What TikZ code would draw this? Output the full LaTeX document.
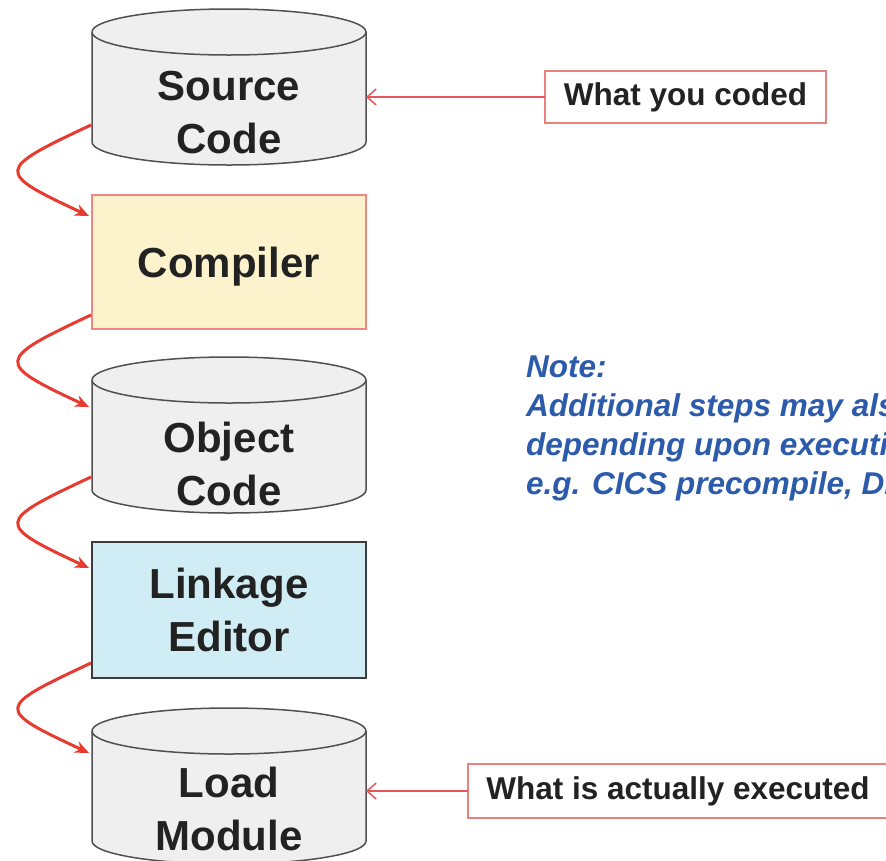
\documentclass[tikz,border=0pt]{standalone}
\usepackage{fontspec}
\setmainfont{Liberation Sans}
\usetikzlibrary{arrows.meta,calc}
\definecolor{cylfill}{HTML}{EFEFEF}
\definecolor{cylline}{HTML}{505050}
\definecolor{compfill}{HTML}{FCF3CC}
\definecolor{compline}{HTML}{EE8880}
\definecolor{linkfill}{HTML}{D0ECF4}
\definecolor{linkline}{HTML}{3C3C3C}
\definecolor{flowred}{HTML}{E63B2E}
\definecolor{lblline}{HTML}{E8827E}
\definecolor{lblarrow}{HTML}{E8555A}
\definecolor{notecol}{HTML}{2B5BAA}
\definecolor{txtcol}{HTML}{222222}
\newcommand{\drawcyl}[1]{%
  \path[cylbody] ([yshift=-23pt]#1.north west) -- ([yshift=23pt]#1.south west)
    arc[start angle=180,end angle=360,x radius=137pt,y radius=23pt]
    -- ([yshift=-23pt]#1.north east)
    arc[start angle=0,end angle=180,x radius=137pt,y radius=23pt] -- cycle;
  \draw[cylline,line width=1.5pt] ([yshift=-23pt]#1.north east)
    arc[start angle=0,end angle=-180,x radius=137pt,y radius=23pt];}
\begin{document}
\begin{tikzpicture}[x=1pt,y=-1pt,
  cylbox/.style={minimum width=274pt,minimum height=156pt,inner sep=0pt,outer sep=0pt},
  cylbody/.style={draw=cylline,fill=cylfill,line width=1.5pt},
  bigtext/.style={align=center,text=txtcol,inner sep=0pt,font=\fontsize{42}{53}\selectfont\bfseries},
  compbox/.style={bigtext,draw=compline,fill=compfill,line width=2pt,minimum width=274pt,minimum height=134pt,outer sep=0pt,text depth=0pt},
  linkbox/.style={bigtext,draw=linkline,fill=linkfill,line width=1.5pt,minimum width=274pt,minimum height=136pt,outer sep=0pt},
  lblbox/.style={draw=lblline,fill=white,line width=2pt,text=txtcol,inner sep=0pt,outer sep=0pt,font=\fontsize{31.5}{36}\selectfont\bfseries},
  flow/.style={draw=flowred,line width=3pt,-{Stealth[length=14pt,width=12pt]}},
  lblarr/.style={draw=lblarrow,line width=1.5pt,-{Straight Barb[length=9pt,width=16pt]}},
  notetext/.style={align=left,text=notecol,inner sep=0pt,anchor=north west,font=\fontsize{31.5}{39}\selectfont\bfseries\itshape}]
\clip (0,0) rectangle (886,860);
\fill[white] (0,0) rectangle (886,860);

% cylinders
\node[cylbox] (src) at (229,87) {};
\drawcyl{src}
\node[bigtext] (srct) at (229,113) {Source\\Code};

\node[compbox] (comp) at (229,262) {Compiler};

\node[cylbox] (obj) at (229,435) {};
\drawcyl{obj}
\node[bigtext] (objt) at (229,464) {Object\\Code};

\node[linkbox] (link) at (229,610) {Linkage\\Editor};

\node[cylbox] (load) at (229,786) {};
\drawcyl{load}
\node[bigtext] (loadt) at (229,809) {Load\\Module};

% flow arrows
\draw[flow] ($(src.west)+(-1,38)$) .. controls +(-96,45) and +(-94,-44) .. ($(comp.north west)+(-3,21)$);
\draw[flow] ($(comp.south west)+(-1,-14)$) .. controls +(-96,45) and +(-94,-44) .. ($(obj.west)+(-3,-28)$);
\draw[flow] ($(obj.west)+(-1,42)$) .. controls +(-96,45) and +(-94,-44) .. ($(link.north west)+(-3,26)$);
\draw[flow] ($(link.south west)+(-1,-15)$) .. controls +(-96,45) and +(-94,-44) .. ($(load.west)+(-3,-33)$);

% labels
\node[lblbox,minimum width=281pt,minimum height=52pt] (wyc) at (685.5,97) {What you coded};
\draw[lblarr] (wyc.west) -- (wyc.west -| src.east);

\node[lblbox,minimum width=420pt,minimum height=54pt] (wie) at (678,791) {What is actually executed};
\draw[lblarr] (wie.west) -- (wie.west -| load.east);

% note
\node[notetext] (note) at (526,356) {Note:\\Additional steps may also be required\\depending upon execution environment\\e.g. CICS precompile, DB2 precompile};
\end{tikzpicture}
\end{document}
